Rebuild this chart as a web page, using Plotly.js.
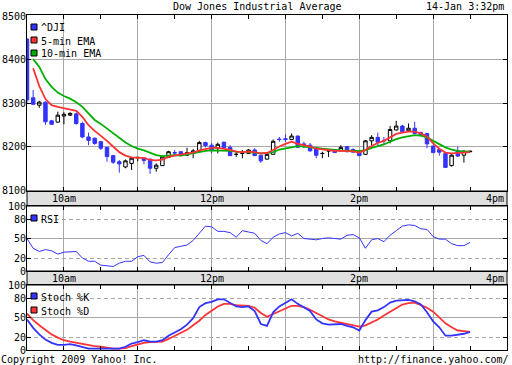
<!DOCTYPE html>
<html><head><meta charset="utf-8">
<script src="https://cdn.plot.ly/plotly-3.0.1.min.js"></script>
<style>html,body{margin:0;padding:0;background:#fff;}#chart{width:512px;height:365px;}</style>
</head><body><div id="chart"></div>
<script>
const day = '2009-01-14 ';
const times = ["09:30","09:35","09:40","09:45","09:50","09:55",
"10:00","10:05","10:10","10:15","10:20","10:25","10:30","10:35","10:40","10:45","10:50","10:55",
"11:00","11:05","11:10","11:15","11:20","11:25","11:30","11:35","11:40","11:45","11:50","11:55",
"12:00","12:05","12:10","12:15","12:20","12:25","12:30","12:35","12:40","12:45","12:50","12:55",
"13:00","13:05","13:10","13:15","13:20","13:25","13:30","13:35","13:40","13:45","13:50","13:55",
"14:00","14:05","14:10","14:15","14:20","14:25","14:30","14:35","14:40","14:45","14:50","14:55",
"15:00","15:05","15:10","15:15","15:20","15:25","15:30"];
const open  = [8447,8312,8295,8302,8259,8256,8270,8272,8275,8253,8222,8219,8211,8198,8179,8165,8153,8161,8174,8174,8171,8150,8156,8175,8186,8188,8180,8184,8188,8209,8203,8196,8210,8198,8182,8184,8184,8192,8180,8171,8182,8217,8218,8216,8224,8206,8203,8196,8184,8190,8193,8190,8200,8193,8188,8182,8213,8221,8214,8213,8238,8247,8236,8242,8232,8230,8201,8193,8184,8156,8190,8180,8188];
const high  = [8449,8330,8305,8304,8261,8280,8279,8279,8278,8257,8232,8221,8213,8199,8181,8169,8170,8176,8175,8175,8172,8161,8178,8190,8192,8189,8197,8194,8213,8211,8208,8209,8211,8203,8190,8192,8194,8196,8181,8183,8216,8222,8228,8230,8225,8211,8208,8197,8188,8191,8194,8203,8201,8196,8189,8215,8226,8232,8222,8247,8259,8250,8253,8257,8234,8231,8202,8194,8185,8183,8200,8192,8190];
const low   = [8300,8295,8289,8250,8250,8255,8251,8270,8250,8219,8203,8204,8192,8165,8160,8140,8150,8146,8166,8159,8137,8142,8155,8174,8180,8178,8179,8173,8187,8198,8184,8184,8196,8179,8176,8173,8183,8179,8162,8170,8181,8211,8211,8215,8198,8196,8188,8173,8173,8176,8185,8189,8187,8186,8178,8181,8203,8203,8206,8207,8237,8233,8235,8229,8224,8196,8185,8179,8151,8154,8176,8163,8187];
const close = [8307,8297,8302,8257,8251,8272,8274,8276,8253,8222,8214,8207,8196,8177,8164,8160,8167,8173,8175,8168,8150,8157,8176,8188,8185,8179,8186,8190,8209,8202,8192,8205,8197,8179,8182,8184,8192,8179,8167,8182,8212,8216,8216,8224,8198,8204,8190,8180,8184,8190,8186,8198,8188,8187,8179,8213,8221,8210,8213,8239,8247,8234,8242,8230,8225,8206,8186,8187,8152,8180,8178,8189,8189];
const ema5  = [null,8380,8339,8309,8295,8291,8288,8286,8282,8268,8249,8236,8225,8213,8200,8187,8179,8175,8174,8174,8169,8168,8170,8176,8179,8182,8184,8186,8191,8194,8197,8197,8195,8192,8188,8187,8188,8187,8184,8185,8192,8200,8206,8211,8206,8203,8200,8195,8193,8191,8190,8190,8190,8189,8186,8192,8201,8208,8213,8222,8229,8232,8234,8234,8230,8223,8207,8195,8186,8184,8185,8187,8187];
const ema10 = [null,8401,8383,8355,8337,8324,8316,8310,8302,8291,8275,8261,8252,8241,8229,8218,8209,8201,8195,8191,8186,8180,8178,8179,8180,8179,8182,8185,8187,8190,8191,8191,8190,8190,8188,8188,8187,8186,8184,8185,8187,8193,8196,8199,8201,8200,8199,8197,8195,8193,8192,8191,8190,8190,8190,8191,8197,8201,8205,8211,8217,8221,8224,8226,8225,8221,8213,8206,8198,8193,8190,8189,8188];
const rsi   = [50,35,30,33,31,26,29,29,30,20,15,15,9,8,7,12,15,15,22,24,14,12,13,25,36,38,40,47,58,69,68,61,61,59,52,62,60,58,47,42,52,57,59,54,58,50,49,48,50,51,50,49,55,56,51,35,48,50,45,55,62,69,71,70,65,64,53,49,49,42,39,39,44];
const stochK = [47,34,24,16,11,8,8,9,7,5,2,2,2,2,2,2,5,10,12,15,13,13,15,22,27,32,39,49,66,72,74,78,78,72,67,66,67,60,40,37,58,67,72,78,71,66,60,47,41,39,39,40,37,35,30,46,59,61,66,73,76,77,77,75,70,58,44,35,22,22,23,25,28];
const stochD = [56,46,38,31,24,19,15,13,11,9,7,6,5,3,2,2,3,6,9,11,12,12,13,17,22,26,31,38,45,54,61,67,71,71,69,69,68,65,57,51,55,60,64,68,68,66,62,57,52,47,44,42,40,37,36,38,42,47,53,59,65,70,72,73,69,65,59,50,41,35,30,29,28];
const priceTicks = [8100,8200,8300,8400,8500];
const oscTicks = [0,20,50,80,100];
const timeTickTimes = ["10:00","12:00","14:00","16:00"];
const timeTickLabels = ["10am","12pm","2pm","4pm"];

const BLUE='#3333ff', RED='#ff3333', GREEN='#00b000', GRID='#a8a8a8', BAND='#e0e0e0';
const FONT = {family:'DejaVu Sans Mono, monospace', size:10, color:'#000'};
const X = times.map(t => day + t);
const py = p => (350 - p) / 335;   // page pixel row -> paper y
const px = p => (p - 27) / 480;    // page pixel col -> paper x

const dom = {
  main: [py(191), 1],
  band1: [py(206), py(191)],
  rsi: [py(271), py(206)],
  band2: [py(285), py(271)],
  stoch: [0, py(285)]
};

const xBase = {
  type:'date', range:[day+'09:30', day+'16:00'], tick0: day+'09:00', dtick:3600000,
  showgrid:true, gridcolor:GRID, gridwidth:1, ticks:'inside', ticklen:4, tickcolor:'#000',
  showticklabels:false, showline:true, linecolor:'#000', linewidth:1, mirror:'ticks',
  zeroline:false, fixedrange:true,
  minor:{dtick:1800000, ticks:'inside', ticklen:4, tickcolor:'#000', showgrid:false}
};
const yBase = {
  showgrid:true, gridcolor:GRID, ticks:'inside', ticklen:4, tickcolor:'#000',
  showline:true, linecolor:'#000', linewidth:1, mirror:'ticks', zeroline:false,
  tickfont:FONT, fixedrange:true, ticklabelstandoff:-2
};

const traces = [
  {type:'candlestick', x:X, open:open, high:high, low:low, close:close, xaxis:'x', yaxis:'y',
   increasing:{line:{color:'#000', width:1}, fillcolor:'#fff'},
   decreasing:{line:{color:BLUE, width:1}, fillcolor:BLUE},
   whiskerwidth:0, showlegend:false, hoverinfo:'skip'},
  {type:'scatter', mode:'lines', x:X, y:ema10, xaxis:'x', yaxis:'y', line:{color:GREEN, width:1.8}, showlegend:false, hoverinfo:'skip'},
  {type:'scatter', mode:'lines', x:X, y:ema5, xaxis:'x', yaxis:'y', line:{color:RED, width:1.8}, showlegend:false, hoverinfo:'skip'},
  {type:'scatter', mode:'lines', x:X, y:rsi, xaxis:'x2', yaxis:'y2', line:{color:BLUE, width:1}, showlegend:false, hoverinfo:'skip'},
  {type:'scatter', mode:'lines', x:X, y:stochD, xaxis:'x3', yaxis:'y3', line:{color:RED, width:1.8}, showlegend:false, hoverinfo:'skip'},
  {type:'scatter', mode:'lines', x:X, y:stochK, xaxis:'x3', yaxis:'y3', line:{color:BLUE, width:1.8}, showlegend:false, hoverinfo:'skip'}
];

const shapes = [];
[dom.band1, dom.band2].forEach(d => shapes.push({type:'rect', xref:'paper', yref:'paper', x0:0, x1:1, y0:d[0], y1:d[1], fillcolor:BAND, line:{color:'#000', width:1}, layer:'below'}));
const legendItems = [
  {color:BLUE, label:'^DJI', row:27},
  {color:RED, label:'5-min EMA', row:40},
  {color:GREEN, label:'10-min EMA', row:53},
  {color:BLUE, label:'RSI', row:218},
  {color:BLUE, label:'Stoch %K', row:296},
  {color:RED, label:'Stoch %D', row:310}
];
const annotations = [];
legendItems.forEach(it => {
  shapes.push({type:'rect', xref:'paper', yref:'paper', x0:px(31), x1:px(37), y0:py(it.row-3), y1:py(it.row+3), fillcolor:it.color, line:{color:'#000', width:1}});
  annotations.push({xref:'paper', yref:'paper', x:px(39), y:py(it.row+1), xanchor:'left', yanchor:'middle', text:it.label, showarrow:false, font:FONT});
});
[dom.band1, dom.band2].forEach(d => {
  timeTickTimes.forEach((t, k) => {
    const last = k === timeTickTimes.length - 1;
    annotations.push({xref:'x', yref:'paper', x:day+t, y:(d[0]+d[1])/2, xanchor: last ? 'right' : 'center', xshift: last ? -1 : 0, yanchor:'middle', text:timeTickLabels[k], showarrow:false, font:FONT});
  });
});
annotations.push({xref:'paper', yref:'paper', x:px(257), y:py(6), xanchor:'center', yanchor:'middle', text:'Dow Jones Industrial Average', showarrow:false, font:FONT});
annotations.push({xref:'paper', yref:'paper', x:px(506), y:py(6), xanchor:'right', yanchor:'middle', text:'14-Jan 3:32pm', showarrow:false, font:FONT});
annotations.push({xref:'paper', yref:'paper', x:px(-1), y:py(359), xanchor:'left', yanchor:'middle', text:'Copyright 2009 Yahoo! Inc.', showarrow:false, font:FONT});
annotations.push({xref:'paper', yref:'paper', x:px(511), y:py(359), xanchor:'right', yanchor:'middle', text:'http://finance.yahoo.com/', showarrow:false, font:FONT});

const layout = {
  width:512, height:365, margin:{l:27, r:5, t:15, b:15, pad:0},
  paper_bgcolor:'#fff', plot_bgcolor:'#fff', font:FONT, showlegend:false, hovermode:false,
  boxgap:0.2,
  xaxis: Object.assign({}, xBase, {anchor:'y', rangeslider:{visible:false}}),
  xaxis2: Object.assign({}, xBase, {anchor:'y2', matches:'x'}),
  xaxis3: Object.assign({}, xBase, {anchor:'y3', matches:'x'}),
  yaxis: Object.assign({}, yBase, {domain:dom.main, range:[8097.7, 8502.3], tickvals:priceTicks}),
  yaxis2: Object.assign({}, yBase, {domain:dom.rsi, range:[0,100], tickvals:oscTicks, griddash:'4px,3px',
    minor:{tickvals:[50], showgrid:true, gridcolor:GRID, griddash:'solid', ticks:''}}),
  yaxis3: Object.assign({}, yBase, {domain:dom.stoch, range:[0,100], tickvals:oscTicks, griddash:'4px,3px',
    minor:{tickvals:[50], showgrid:true, gridcolor:GRID, griddash:'solid', ticks:''}}),
  shapes:shapes, annotations:annotations
};
Plotly.newPlot('chart', traces, layout, {staticPlot:true, displayModeBar:false});
</script></body></html>
